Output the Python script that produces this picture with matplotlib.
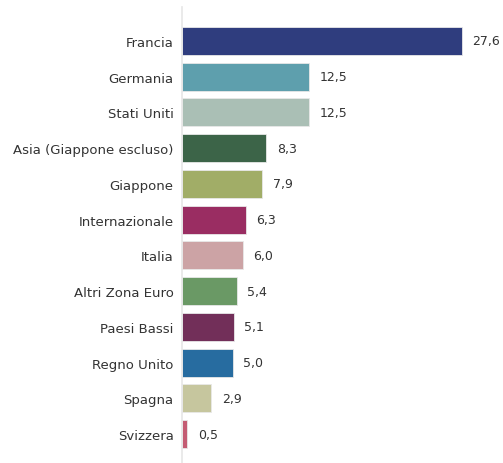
import numpy as np
import matplotlib.pyplot as plt

# Paesi e pesi (%)
paesi = ['Francia', 'Germania', 'Stati Uniti', 'Asia (Giappone escluso)', 'Giappone',
         'Internazionale', 'Italia', 'Altri Zona Euro', 'Paesi Bassi', 'Regno Unito',
         'Spagna', 'Svizzera']
pesi = [27.6, 12.5, 12.5, 8.3, 7.9, 6.3, 6.0, 5.4, 5.1, 5.0, 2.9, 0.5]
colori = ['#2F3D7E', '#5E9FAD', '#AABFB5', '#3C6448', '#A1AD67', '#9A2D62',
          '#CCA3A5', '#6A9965', '#722F59', '#276CA0', '#C6C69E', '#C45C73']

W, H = 503, 464
fig = plt.figure(figsize=(W / 100, H / 100), dpi=100)
ax = fig.add_axes([182 / W, 0, 1 - 182 / W, 1 - 8 / H])

y = np.arange(len(paesi))
ax.barh(y, pesi, height=0.78, color=colori, edgecolor='#e8e8e8', linewidth=0.6)

for yi, v in zip(y, pesi):
    ax.text(v + 1.05, yi, f'{v:.1f}'.replace('.', ','), va='center', ha='left',
            fontsize=9, color='#333333')

ax.set_yticks(y)
ax.set_yticklabels(paesi, fontsize=9.5, color='#333333')
ax.tick_params(axis='y', length=0, pad=6)
ax.set_xticks([])
ax.set_xlim(0, (W - 182) / 10.14)
ax.set_ylim(len(paesi) - 1 + 0.81, -0.95)

for s in ['top', 'right', 'bottom']:
    ax.spines[s].set_visible(False)
ax.spines['left'].set_color('#e6e6e6')
ax.spines['left'].set_linewidth(1.2)

fig.savefig('out.png', dpi=100)
